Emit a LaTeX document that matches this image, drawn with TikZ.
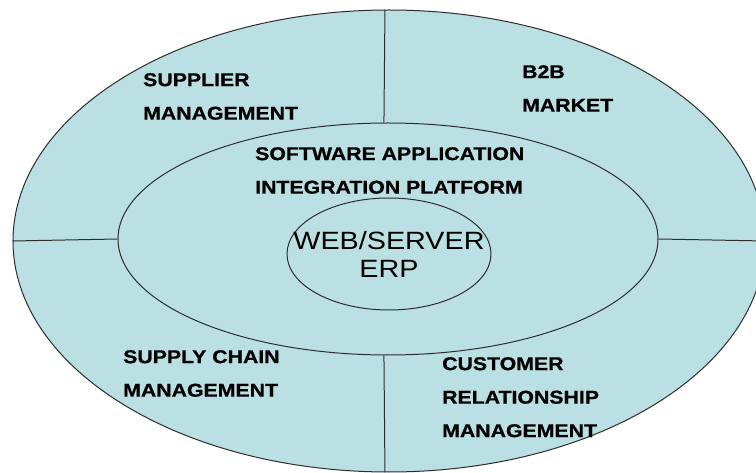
\documentclass[tikz,border=0pt]{standalone}
\usepackage{fontspec}
\setmainfont{Liberation Sans}
\newfontfamily\lblfont[FakeStretch=1.15, BoldFeatures={FakeBold=0.8}]{Liberation Sans}
\usetikzlibrary{shapes.geometric, positioning, calc}
\definecolor{ringfill}{RGB}{187,224,228}
\definecolor{ringline}{RGB}{45,45,45}

\begin{document}
\begin{tikzpicture}[x=1pt, y=-1pt,
  ring/.style={ellipse, draw=ringline, fill=ringfill, line width=1pt, inner sep=0pt},
  sep/.style={draw=ringline, line width=1pt},
  lbl/.style={anchor=north west, align=left, inner sep=0pt, font=\lblfont\bfseries\fontsize{18.5}{33.5}\selectfont},
  core/.style={align=center, inner sep=0pt, font=\lblfont\fontsize{25}{28}\selectfont}]
  \useasboundingbox (0,0) rectangle (756,473);
  \node[ring, minimum width=752pt, minimum height=462pt] (outer) at (389,241) {};
  \node[ring, minimum width=540pt, minimum height=232pt] (mid) at (388,239) {};
  \node[ring, minimum width=204pt, minimum height=112pt] (inner) at (389,254) {};
  \draw[sep] (outer.91) -- (mid.92);
  \draw[sep] (mid.268) -- (outer.269);
  \draw[sep] (outer.west) -- (mid.west);
  \draw[sep] (mid.east) -- (outer.east);
  \node[lbl] (supplier) at (143,73) {SUPPLIER\\MANAGEMENT};
  \node[lbl] (market) at (522,65) {B2B\\MARKET};
  \node[lbl] (platform) at (255,147) {SOFTWARE APPLICATION\\INTEGRATION PLATFORM};
  \node[lbl] (chain) at (123,350) {SUPPLY CHAIN\\MANAGEMENT};
  \node[lbl] (customer) at (442,357) {CUSTOMER\\RELATIONSHIP\\MANAGEMENT};
  \node[core] (erp) at (389,254) {WEB/SERVER\\ERP};
\end{tikzpicture}
\end{document}
